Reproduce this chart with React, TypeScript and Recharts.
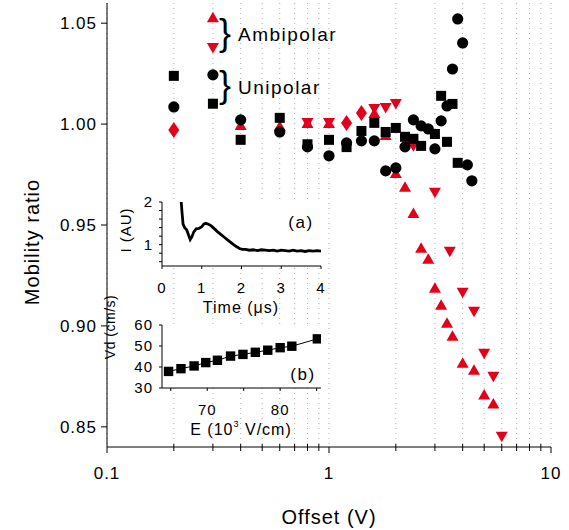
import React from 'react';
import { ScatterChart, Scatter, LineChart, Line, XAxis, YAxis, CartesianGrid } from 'recharts';

const FONT = '"Liberation Sans", Arial, Helvetica, sans-serif';
const RED = '#e3001b';

// main plot axes
const offsetTicks = [0.1, 0.2, 0.3, 0.4, 0.5, 0.6, 0.7, 0.8, 0.9, 1, 2, 3, 4, 5, 6, 7, 8, 9, 10];
const ratioTicks = [0.85, 0.9, 0.95, 1.0, 1.05];

// ambipolar, up triangles
const upX = [0.4, 0.6, 0.8, 1.0, 1.6, 1.8, 2.0, 2.2, 2.4, 2.6, 2.8, 3.0, 3.2, 3.4, 3.6, 4.0, 4.5, 5.0, 5.5];
const upY = [0.9995, 0.9991, 1.0006, 1.0006, 1.0055, 0.9946, 0.9758, 0.9689, 0.956, 0.9387, 0.9333, 0.9189, 0.9105, 0.9016, 0.8951, 0.8818, 0.8783, 0.866, 0.8615];

// ambipolar, down triangles
const downX = [0.8, 1.0, 1.6, 1.8, 2.0, 2.4, 3.0, 3.5, 4.0, 4.5, 5.0, 5.5, 6.0];
const downY = [1.0006, 1.0006, 1.0075, 1.008, 1.01, 0.989, 0.966, 0.9367, 0.9164, 0.907, 0.8862, 0.8748, 0.8451];

// red diamonds
const diaX = [0.2, 1.2, 1.4];
const diaY = [0.9971, 1.0006, 1.0055];

// unipolar, circles
const circX = [0.2, 0.4, 0.6, 0.8, 1.0, 1.2, 1.4, 1.6, 1.8, 2.0, 2.2, 2.4, 2.6, 2.8, 3.0, 3.2, 3.4, 3.6, 3.8, 4.0, 4.2, 4.4];
const circY = [1.0085, 1.0021, 0.9961, 0.9887, 0.9843, 0.9907, 0.9917, 0.9917, 0.9768, 0.9783, 0.9887, 1.0021, 0.9991, 0.9976, 0.9877, 1.0016, 1.009, 1.0273, 1.0521, 1.0402, 0.9798, 0.9719];

// unipolar, squares
const sqX = [0.2, 0.4, 0.6, 0.8, 1.0, 1.2, 1.4, 1.6, 1.8, 2.0, 2.2, 2.4, 2.6, 3.0, 3.2, 3.4, 3.6, 3.8];
const sqY = [1.0239, 0.9922, 1.0031, 0.99, 0.9922, 0.9886, 0.9966, 1.0006, 0.9961, 0.9981, 0.9937, 0.9927, 0.9892, 0.9951, 1.014, 0.9912, 1.01, 0.9808];

// key symbols next to the brackets
const keyX = 0.3;
const keyUpY = 1.053;
const keyDownY = 1.0377;
const keyCircY = 1.0244;
const keySqY = 1.0101;

// inset (a): current trace
const traceT = [0.46, 0.5, 0.53, 0.57, 0.62, 0.67, 0.71, 0.75, 0.8, 0.86, 0.93, 1.0, 1.05, 1.1, 1.17, 1.24, 1.32, 1.4, 1.48, 1.56, 1.64, 1.72, 1.8, 1.88, 1.95, 2.02, 2.1, 2.2, 2.3, 2.4, 2.5, 2.6, 2.7, 2.8, 2.9, 3.0, 3.1, 3.2, 3.3, 3.4, 3.5, 3.6, 3.7, 3.8, 3.9, 4.0];
const traceI = [2.3, 1.8, 1.48, 1.4, 1.35, 1.22, 1.12, 1.18, 1.3, 1.37, 1.38, 1.42, 1.48, 1.5, 1.48, 1.44, 1.37, 1.3, 1.24, 1.18, 1.12, 1.06, 1.0, 0.95, 0.91, 0.89, 0.89, 0.87, 0.88, 0.86, 0.88, 0.87, 0.86, 0.87, 0.85, 0.87, 0.86, 0.85, 0.87, 0.85, 0.86, 0.84, 0.86, 0.85, 0.86, 0.85];
const traceTicksX = [0, 1, 2, 3, 4];
const traceTicksY = [0.6, 0.8, 1.0, 1.2, 1.4, 1.6, 1.8, 2.0];

// inset (b): drift velocity vs field
const fieldE = [64.7, 66.4, 68.2, 69.8, 71.4, 73.2, 74.9, 76.6, 78.3, 80.0, 81.6, 85.1];
const driftV = [37.9, 39.2, 40.5, 42.1, 43.2, 45.2, 46.0, 47.0, 48.0, 49.2, 49.9, 53.4];
const fieldTicks = [65, 70, 75, 80, 85];
const driftTicks = [30, 40, 50, 60];

const zip = (xs: number[], ys: number[]) => xs.map((x, i) => ({ x, y: ys[i] }));

const isDecade = (v: number) => Math.abs(Math.log10(v) - Math.round(Math.log10(v))) < 1e-6;
const near = (a: number, b: number) => Math.abs(a - b) < 1e-6;

const Circle = (p: any) => <circle cx={p.cx} cy={p.cy} r={5.6} fill="#000" />;
const Square = (p: any) => <rect x={p.cx - 5} y={p.cy - 5} width={10} height={10} fill="#000" />;
const TriUp = (p: any) => (
  <path d={`M${p.cx},${p.cy - 5.5}L${p.cx + 6},${p.cy + 5}L${p.cx - 6},${p.cy + 5}Z`} fill={RED} />
);
const TriDown = (p: any) => (
  <path d={`M${p.cx - 6},${p.cy - 5}L${p.cx + 6},${p.cy - 5}L${p.cx},${p.cy + 5.5}Z`} fill={RED} />
);
const Diamond = (p: any) => (
  <path d={`M${p.cx},${p.cy - 8}L${p.cx + 5.5},${p.cy}L${p.cx},${p.cy + 8}L${p.cx - 5.5},${p.cy}Z`} fill={RED} />
);

const txt = { fontFamily: FONT, fill: '#000' };

const bottomTick = (p: any) => {
  const v = p.payload.value;
  const major = isDecade(v);
  return (
    <g>
      <line x1={p.x} x2={p.x} y1={p.y - (major ? 0 : 3)} y2={p.y + (major ? 6 : 4)} stroke="#000" />
      {major && (
        <text x={p.x} y={p.y + 32} textAnchor="middle" fontSize={17} style={{ letterSpacing: 1 }} {...txt}>
          {String(v)}
        </text>
      )}
    </g>
  );
};

const topTick = (p: any) => <line x1={p.x} x2={p.x} y1={p.y} y2={p.y + 4} stroke="#000" />;

const leftTick = (p: any) => (
  <g>
    <line x1={p.x - 6} x2={p.x} y1={p.y} y2={p.y} stroke="#000" />
    <text x={p.x - 10} y={p.y + 6} textAnchor="end" fontSize={17} style={{ letterSpacing: 1 }} {...txt}>
      {p.payload.value.toFixed(2)}
    </text>
  </g>
);

const insetXTick = (labelled: number[]) => (p: any) => {
  const v = p.payload.value;
  return (
    <g>
      <line x1={p.x} x2={p.x} y1={p.y} y2={p.y + 3} stroke="#000" />
      {labelled.some((l) => near(l, v)) && (
        <text x={p.x} y={p.y + 27} textAnchor="middle" fontSize={15} style={{ letterSpacing: 1 }} {...txt}>
          {String(v)}
        </text>
      )}
    </g>
  );
};

const insetYTick = (labelled: number[]) => (p: any) => {
  const v = p.payload.value;
  return (
    <g>
      <line x1={p.x - 3} x2={p.x} y1={p.y} y2={p.y} stroke="#000" />
      {labelled.some((l) => near(l, v)) && (
        <text x={p.x - 9} y={p.y + 5} textAnchor="end" fontSize={15} style={{ letterSpacing: 1 }} {...txt}>
          {String(v)}
        </text>
      )}
    </g>
  );
};

const MainPlot = () => (
  <ScatterChart width={569} height={530} margin={{ top: 3, right: 18, bottom: 0, left: 0 }}>
    <CartesianGrid horizontal={false} stroke="#b0b0b0" strokeDasharray="1 4" />
    <XAxis
      dataKey="x"
      type="number"
      scale="log"
      domain={[0.1, 10]}
      ticks={offsetTicks}
      interval={0}
      allowDataOverflow
      height={83}
      tickSize={0}
      tickMargin={0}
      tickLine={false}
      tick={bottomTick}
      axisLine={{ stroke: '#000' }}
    />
    <XAxis
      xAxisId="top"
      orientation="top"
      type="number"
      scale="log"
      domain={[0.1, 10]}
      ticks={offsetTicks}
      interval={0}
      allowDataOverflow
      height={0}
      tickSize={0}
      tickMargin={0}
      tickLine={false}
      tick={topTick}
      axisLine={{ stroke: '#000' }}
    />
    <YAxis
      dataKey="y"
      type="number"
      domain={[0.84, 1.06]}
      ticks={ratioTicks}
      interval={0}
      allowDataOverflow
      width={107}
      tickSize={0}
      tickMargin={0}
      tickLine={false}
      tick={leftTick}
      axisLine={{ stroke: '#000' }}
    />
    <YAxis
      yAxisId="right"
      orientation="right"
      type="number"
      domain={[0.84, 1.06]}
      allowDataOverflow
      width={0}
      tick={false}
      tickLine={false}
      axisLine={{ stroke: '#000' }}
    />
    <Scatter data={zip(upX, upY)} shape={TriUp} isAnimationActive={false} />
    <Scatter data={zip(downX, downY)} shape={TriDown} isAnimationActive={false} />
    <Scatter data={zip(diaX, diaY)} shape={Diamond} isAnimationActive={false} />
    <Scatter data={zip(circX, circY)} shape={Circle} isAnimationActive={false} />
    <Scatter data={zip(sqX, sqY)} shape={Square} isAnimationActive={false} />
    <Scatter data={[{ x: keyX, y: keyUpY }]} shape={TriUp} isAnimationActive={false} />
    <Scatter data={[{ x: keyX, y: keyDownY }]} shape={TriDown} isAnimationActive={false} />
    <Scatter data={[{ x: keyX, y: keyCircY }]} shape={Circle} isAnimationActive={false} />
    <Scatter data={[{ x: keyX, y: keySqY }]} shape={Square} isAnimationActive={false} />
  </ScatterChart>
);

const TraceInset = () => (
  <LineChart
    width={240}
    height={130}
    data={traceT.map((t, i) => ({ t, i: traceI[i] }))}
    margin={{ top: 12, right: 19, bottom: 0, left: 0 }}
  >
    <CartesianGrid horizontal={false} vertical={false} fill="#fff" stroke="none" />
    <XAxis
      dataKey="t"
      type="number"
      domain={[0, 4]}
      ticks={traceTicksX}
      interval={0}
      allowDataOverflow
      height={54}
      tickSize={0}
      tickMargin={0}
      tickLine={false}
      tick={insetXTick(traceTicksX)}
      axisLine={{ stroke: '#000' }}
    />
    <XAxis xAxisId="top" orientation="top" type="number" domain={[0, 4]} allowDataOverflow height={0} tick={false} tickLine={false} axisLine={{ stroke: '#000' }} />
    <YAxis
      type="number"
      domain={[0.5, 2]}
      ticks={traceTicksY}
      interval={0}
      allowDataOverflow
      width={62}
      tickSize={0}
      tickMargin={0}
      tickLine={false}
      tick={insetYTick([1, 2])}
      axisLine={{ stroke: '#000' }}
    />
    <YAxis yAxisId="right" orientation="right" type="number" domain={[0.5, 2]} allowDataOverflow width={0} tick={false} tickLine={false} axisLine={{ stroke: '#000' }} />
    <Line type="linear" dataKey="i" stroke="#000" strokeWidth={2.8} dot={false} isAnimationActive={false} />
  </LineChart>
);

const DriftInset = () => (
  <LineChart
    width={240}
    height={130}
    data={fieldE.map((e, i) => ({ e, v: driftV[i] }))}
    margin={{ top: 12, right: 19, bottom: 0, left: 0 }}
  >
    <CartesianGrid horizontal={false} vertical={false} fill="#fff" stroke="none" />
    <XAxis
      dataKey="e"
      type="number"
      domain={[63.8, 85.6]}
      ticks={fieldTicks}
      interval={0}
      allowDataOverflow
      height={55}
      tickSize={0}
      tickMargin={0}
      tickLine={false}
      tick={insetXTick([70, 80])}
      axisLine={{ stroke: '#000' }}
    />
    <XAxis xAxisId="top" orientation="top" type="number" domain={[63.8, 85.6]} allowDataOverflow height={0} tick={false} tickLine={false} axisLine={{ stroke: '#000' }} />
    <YAxis
      type="number"
      domain={[30, 60]}
      ticks={driftTicks}
      interval={0}
      allowDataOverflow
      width={62}
      tickSize={0}
      tickMargin={0}
      tickLine={false}
      tick={insetYTick(driftTicks)}
      axisLine={{ stroke: '#000' }}
    />
    <YAxis yAxisId="right" orientation="right" type="number" domain={[30, 60]} allowDataOverflow width={0} tick={false} tickLine={false} axisLine={{ stroke: '#000' }} />
    <Line
      type="linear"
      dataKey="v"
      stroke="#000"
      strokeWidth={1}
      isAnimationActive={false}
      dot={(p: any) => <rect key={p.index} x={p.cx - 4.7} y={p.cy - 4.7} width={9.4} height={9.4} fill="#000" />}
    />
  </LineChart>
);

const Annotations = () => (
  <svg width={569} height={530} style={{ position: 'absolute', left: 0, top: 0, pointerEvents: 'none' }}>
    <text transform="translate(32,242) rotate(-90)" textAnchor="middle" dominantBaseline="central" fontSize={20} style={{ letterSpacing: 1 }} {...txt}>
      Mobility ratio
    </text>
    <text x={329} y={517} textAnchor="middle" dominantBaseline="central" fontSize={20} style={{ letterSpacing: 1 }} {...txt}>
      Offset (V)
    </text>
    <text x={219} y={45} fontSize={36} {...txt}>{'}'}</text>
    <text x={219} y={97} fontSize={36} {...txt}>{'}'}</text>
    <text x={238} y={41} fontSize={19} style={{ letterSpacing: 1.5 }} {...txt}>Ambipolar</text>
    <text x={238} y={94} fontSize={19} style={{ letterSpacing: 1.5 }} {...txt}>Unipolar</text>
    <text x={301} y={222} textAnchor="middle" dominantBaseline="central" fontSize={17} style={{ letterSpacing: 1.5 }} {...txt}>(a)</text>
    <text x={303} y={374} textAnchor="middle" dominantBaseline="central" fontSize={17} style={{ letterSpacing: 1.5 }} {...txt}>(b)</text>
    <text transform="translate(125,230) rotate(-90)" textAnchor="middle" dominantBaseline="central" fontSize={15} style={{ letterSpacing: 1 }} {...txt}>
      I (AU)
    </text>
    <text transform="translate(110,327) rotate(-90)" textAnchor="middle" dominantBaseline="central" fontSize={14} style={{ letterSpacing: 0.5 }} {...txt}>
      Vd (cm/s)
    </text>
    <text x={241} y={307} textAnchor="middle" dominantBaseline="central" fontSize={16} style={{ letterSpacing: 1 }} {...txt}>
      Time (μs)
    </text>
    <text x={241} y={435} textAnchor="middle" fontSize={16} style={{ letterSpacing: 1 }} {...txt}>
      E (10<tspan dy={-8} fontSize={9}>3</tspan><tspan dy={8}> V/cm)</tspan>
    </text>
  </svg>
);

export default function App() {
  return (
    <div style={{ position: 'absolute', left: 0, top: 0, width: 569, height: 530, background: '#fff' }}>
      <div style={{ position: 'absolute', left: 0, top: 0 }}>
        <MainPlot />
      </div>
      <div style={{ position: 'absolute', left: 100, top: 190 }}>
        <TraceInset />
      </div>
      <div style={{ position: 'absolute', left: 100, top: 313 }}>
        <DriftInset />
      </div>
      <Annotations />
    </div>
  );
}
